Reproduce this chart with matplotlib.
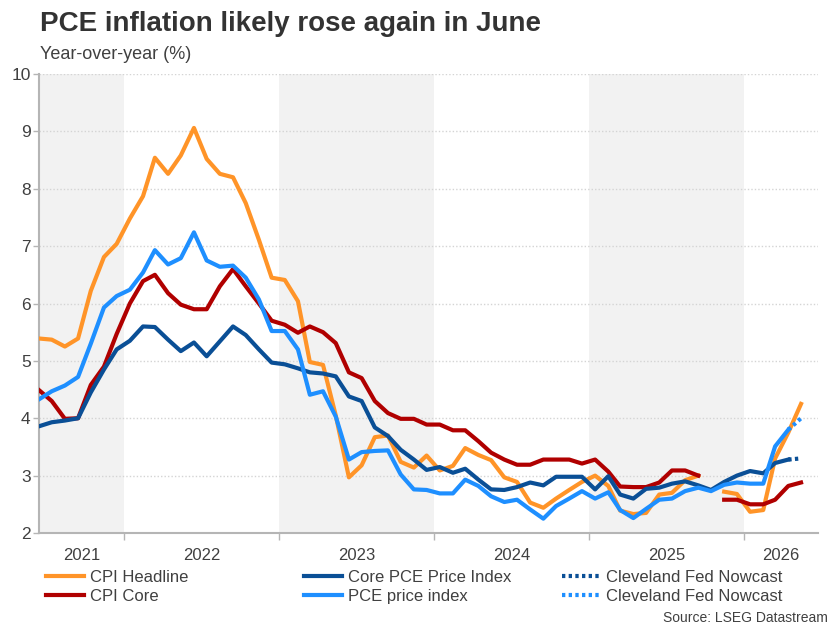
import numpy as np
import pandas as pd
import matplotlib
matplotlib.use('Agg')
import matplotlib.pyplot as plt
import matplotlib.dates as mdates
from matplotlib.lines import Line2D

plt.rcParams['font.family'] = ['Liberation Sans', 'DejaVu Sans']

# monthly points, drawn mid-month, Jun 2021 .. May 2026
months = pd.date_range('2021-06-01', '2026-05-01', freq='MS') + pd.Timedelta(days=14)

cpi_headline = [5.39, 5.37, 5.25, 5.39, 6.22, 6.81, 7.04,
                7.48, 7.87, 8.54, 8.26, 8.58, 9.06, 8.52, 8.26, 8.20, 7.75, 7.11, 6.45,
                6.41, 6.04, 4.98, 4.93, 4.05, 2.97, 3.18, 3.67, 3.70, 3.24, 3.14, 3.35,
                3.09, 3.17, 3.48, 3.36, 3.27, 2.97, 2.89, 2.53, 2.44, 2.60, 2.75, 2.89,
                3.00, 2.82, 2.39, 2.33, 2.35, 2.67, 2.70, 2.92, 3.00, np.nan, 2.72, 2.68,
                2.37, 2.40, 3.30, 3.75, 4.25]

cpi_core = [4.49, 4.30, 3.99, 4.00, 4.58, 4.90, 5.47,
            6.00, 6.39, 6.50, 6.18, 5.98, 5.90, 5.90, 6.30, 6.60, 6.30, 6.00, 5.70,
            5.63, 5.49, 5.60, 5.50, 5.31, 4.80, 4.70, 4.30, 4.09, 3.99, 3.99, 3.89,
            3.89, 3.79, 3.79, 3.60, 3.40, 3.28, 3.19, 3.19, 3.28, 3.28, 3.28, 3.21,
            3.28, 3.07, 2.81, 2.80, 2.80, 2.88, 3.09, 3.09, 3.00, np.nan, 2.58, 2.58,
            2.50, 2.50, 2.58, 2.82, 2.88]

# PCE series stop in Apr 2026
core_pce = [3.86, 3.93, 3.96, 4.00, 4.45, 4.85, 5.20,
            5.35, 5.60, 5.59, 5.37, 5.17, 5.32, 5.08, 5.34, 5.60, 5.45, 5.20, 4.97,
            4.94, 4.87, 4.80, 4.78, 4.73, 4.38, 4.30, 3.84, 3.69, 3.45, 3.28, 3.10,
            3.15, 3.05, 3.12, 2.93, 2.76, 2.75, 2.80, 2.88, 2.83, 2.98, 2.98, 2.98,
            2.76, 2.99, 2.67, 2.60, 2.77, 2.79, 2.86, 2.90, 2.83, 2.75, 2.89, 3.00,
            3.08, 3.04, 3.22, 3.28]

pce = [4.33, 4.47, 4.57, 4.72, 5.30, 5.93, 6.13,
       6.24, 6.54, 6.93, 6.68, 6.79, 7.24, 6.75, 6.64, 6.66, 6.45, 6.07, 5.52,
       5.52, 5.20, 4.41, 4.47, 4.03, 3.28, 3.41, 3.43, 3.44, 3.02, 2.76, 2.75,
       2.69, 2.69, 2.93, 2.82, 2.64, 2.54, 2.58, 2.41, 2.25, 2.47, 2.60, 2.73,
       2.60, 2.71, 2.40, 2.26, 2.42, 2.58, 2.60, 2.73, 2.79, 2.73, 2.84, 2.88,
       2.86, 2.86, 3.51, 3.80]

# Cleveland Fed nowcast, Apr -> May 2026
nowcast_core_pce = [3.28, 3.30]
nowcast_pce = [3.80, 4.00]

orange = '#FF9428'
red = '#B00000'
navy = '#0A4F96'
sky = '#1E8FFF'

fig = plt.figure(figsize=(8.4, 6.29), dpi=100)
ax = fig.add_axes([39/840, 1 - 533/629, (818 - 39)/840, (533 - 74)/629])

x0 = pd.Timestamp('2021-06-15')
x1 = pd.Timestamp('2026-06-24')
ax.set_xlim(x0, x1)
ax.set_ylim(2, 10)

# alternate year shading
for a, b in [(x0, '2022-01-01'), ('2023-01-01', '2024-01-01'), ('2025-01-01', '2026-01-01')]:
    ax.axvspan(pd.Timestamp(a), pd.Timestamp(b), color='#f2f2f2', lw=0, zorder=0)

for v in range(3, 11):
    ax.axhline(v, color='#d4d4d4', lw=1, ls=(0, (1, 1.5)), zorder=1)

lw = 3
ax.plot(months, cpi_headline, color=orange, lw=lw, zorder=3)
ax.plot(months, cpi_core, color=red, lw=lw, zorder=3)
ax.plot(months[:len(core_pce)], core_pce, color=navy, lw=lw, zorder=3)
ax.plot(months[:len(pce)], pce, color=sky, lw=lw, zorder=3)
dot = (0, (0.8, 0.8))
ax.plot(months[-2:], nowcast_core_pce, color=navy, lw=lw, ls=dot, zorder=3)
ax.plot(months[-2:], nowcast_pce, color=sky, lw=lw, ls=dot, zorder=3)

for s in ['top', 'right']:
    ax.spines[s].set_visible(False)
for s in ['left', 'bottom']:
    ax.spines[s].set_color('#b5b5b5')
    ax.spines[s].set_linewidth(1.5)

ax.set_yticks(range(2, 11))
ax.tick_params(axis='y', length=4, width=1, color='#b5b5b5', pad=2,
               labelsize=12.5, labelcolor='#404040')

years = [pd.Timestamp(f'{y}-01-01') for y in range(2022, 2027)]
ax.set_xticks(years)
ax.set_xticklabels([])
ax.tick_params(axis='x', which='major', length=5, width=1, color='#b5b5b5')
edges = [x0] + years + [x1]
centers = [edges[i] + (edges[i + 1] - edges[i]) / 2 for i in range(len(edges) - 1)]
ax.set_xticks(centers, minor=True)
ax.set_xticklabels([str(y) for y in range(2021, 2027)], minor=True)
ax.tick_params(axis='x', which='minor', length=0, pad=11, labelsize=12, labelcolor='#404040')

fig.text(40/840, 1 - 31/629, 'PCE inflation likely rose again in June', fontsize=20,
         fontweight='bold', color='#333333', va='baseline')
fig.text(40/840, 1 - 59/629, 'Year-over-year (%)', fontsize=13, color='#404040', va='baseline')
fig.text(828/840, 1 - 622/629, 'Source: LSEG Datastream', fontsize=10, color='#404040',
         ha='right', va='baseline')

def leg(handles, labels, xpx):
    lg = fig.legend(handles, labels, loc='upper left', bbox_to_anchor=(xpx/840, 1 - 570/629),
                    frameon=False, fontsize=12, handlelength=2.25, handletextpad=0.4,
                    borderpad=0, borderaxespad=0, labelspacing=0.22)
    for t in lg.get_texts():
        t.set_color('#404040')

leg([Line2D([], [], color=orange, lw=lw), Line2D([], [], color=red, lw=lw)],
    ['CPI Headline', 'CPI Core'], 46)
leg([Line2D([], [], color=navy, lw=lw), Line2D([], [], color=sky, lw=lw)],
    ['Core PCE Price Index', 'PCE price index'], 304)
leg([Line2D([], [], color=navy, lw=lw, ls=dot), Line2D([], [], color=sky, lw=lw, ls=dot)],
    ['Cleveland Fed Nowcast', 'Cleveland Fed Nowcast'], 562)

fig.savefig('out.png', dpi=100)
